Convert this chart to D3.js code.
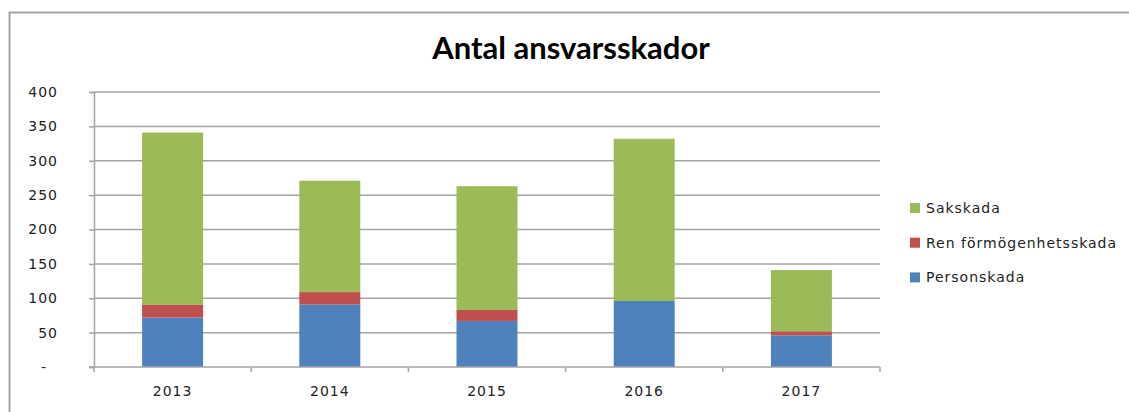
<!DOCTYPE html>
<html>
<head>
<meta charset="utf-8">
<script src="https://cdn.jsdelivr.net/npm/d3@7"></script>
<style>
  body { margin: 0; background: #fff; }
  text { font-family: "DejaVu Sans", sans-serif; fill: #222; }
</style>
</head>
<body>
<svg id="chart"></svg>
<script>
const width = 1129;
const height = 412;

// data
const years = ["2013", "2014", "2015", "2016", "2017"];
const personskada = [72, 91, 67, 96, 46];
const renFormogenhetsskada = [19, 18, 16, 0, 6];
const sakskada = [250, 162, 180, 236, 89];
const yTicks = [0, 50, 100, 150, 200, 250, 300, 350, 400];

const seriesNames = ["Personskada", "Ren förmögenhetsskada", "Sakskada"];
const colors = ["#4F81BD", "#C0504D", "#9BBB59"];

const rows = years.map((y, i) => ({
  year: y,
  "Personskada": personskada[i],
  "Ren förmögenhetsskada": renFormogenhetsskada[i],
  "Sakskada": sakskada[i]
}));

const svg = d3.select("#chart")
  .attr("width", width)
  .attr("height", height);

// outer chart frame (cut off on the right and bottom)
svg.append("rect")
  .attr("x", 9.5).attr("y", 12.5)
  .attr("width", 1300).attr("height", 600)
  .attr("fill", "none")
  .attr("stroke", "#9c9c9c")
  .attr("stroke-width", 1.8);

const plot = { left: 94, right: 880, top: 92, bottom: 367 };

const x = d3.scaleBand()
  .domain(years)
  .range([plot.left, plot.right])
  .paddingInner(0.612)
  .paddingOuter(0.306);

const y = d3.scaleLinear()
  .domain([0, 400])
  .range([plot.bottom, plot.top]);

// title
svg.append("text")
  .attr("x", 571)
  .attr("y", 59)
  .attr("text-anchor", "middle")
  .style("font-family", "Lato, 'Open Sans', sans-serif")
  .style("font-weight", "bold")
  .style("font-size", "31px")
  .style("fill", "#000")
  .text("Antal ansvarsskador");

// gridlines
svg.append("g")
  .selectAll("line")
  .data(yTicks.filter(d => d > 0))
  .join("line")
  .attr("x1", plot.left).attr("x2", plot.right)
  .attr("y1", d => y(d)).attr("y2", d => y(d))
  .attr("stroke", "#a3a3a3")
  .attr("stroke-width", 1.5);

// y axis
const yAxis = svg.append("g")
  .attr("transform", `translate(${plot.left},0)`)
  .call(d3.axisLeft(y).tickValues(yTicks).tickSize(5).tickPadding(31)
    .tickFormat(d => d === 0 ? "-" : d));
yAxis.select(".domain").attr("stroke", "#a3a3a3").attr("stroke-width", 1.5);
yAxis.selectAll(".tick line").attr("stroke", "#a3a3a3").attr("stroke-width", 1.5);
yAxis.selectAll(".tick text")
  .style("font-size", "14px")
  .style("letter-spacing", "1px")
  .attr("dx", d => d === 0 ? -11 : 0);

// bars
const stack = d3.stack().keys(seriesNames);
const stacked = stack(rows);

svg.append("g")
  .selectAll("g")
  .data(stacked)
  .join("g")
  .attr("fill", (d, i) => colors[i])
  .selectAll("rect")
  .data(d => d)
  .join("rect")
  .attr("x", d => x(d.data.year))
  .attr("width", x.bandwidth())
  .attr("y", d => y(d[1]))
  .attr("height", d => y(d[0]) - y(d[1]));

// x axis with ticks between categories
const xAxis = svg.append("g")
  .attr("transform", `translate(0,${plot.bottom})`);
xAxis.append("line")
  .attr("x1", plot.left - 5).attr("x2", plot.right)
  .attr("stroke", "#a3a3a3").attr("stroke-width", 1.5);
xAxis.selectAll(".sep")
  .data(d3.range(years.length + 1))
  .join("line")
  .attr("class", "sep")
  .attr("x1", i => plot.left + i * x.step())
  .attr("x2", i => plot.left + i * x.step())
  .attr("y1", 0).attr("y2", 5)
  .attr("stroke", "#a3a3a3").attr("stroke-width", 1.5);
xAxis.selectAll("text")
  .data(years)
  .join("text")
  .attr("x", d => x(d) + x.bandwidth() / 2)
  .attr("y", 29)
  .attr("text-anchor", "middle")
  .style("font-size", "14px")
  .style("letter-spacing", "1px")
  .text(d => d);

// legend
const legendItems = seriesNames.slice().reverse();
const legend = svg.append("g")
  .attr("transform", "translate(910,208)");
const item = legend.selectAll("g")
  .data(legendItems)
  .join("g")
  .attr("transform", (d, i) => `translate(0,${i * 34.7})`);
item.append("rect")
  .attr("x", 0).attr("y", -5)
  .attr("width", 10).attr("height", 10)
  .attr("fill", d => colors[seriesNames.indexOf(d)]);
item.append("text")
  .attr("x", 16)
  .attr("y", 5)
  .style("font-size", "14px")
  .style("letter-spacing", "1px")
  .text(d => d);
</script>
</body>
</html>
